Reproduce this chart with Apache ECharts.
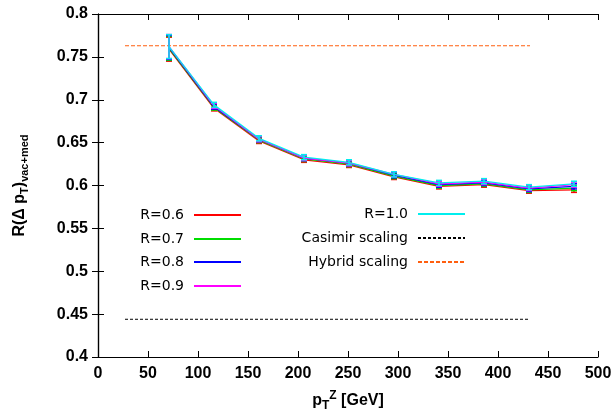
<!DOCTYPE html>
<html>
<head>
<meta charset="utf-8">
<script src="https://cdn.jsdelivr.net/npm/echarts@6/dist/echarts.min.js"></script>
<style>html,body{margin:0;padding:0;background:#fff;}#c{width:614px;height:412px;}</style>
</head>
<body>
<div id="c"></div>
<script>
// ---- data ----
var xVals = [71, 116, 161, 206, 251, 296, 341, 386, 431, 476];
var seriesNames = ['R=0.6', 'R=0.7', 'R=0.8', 'R=0.9', 'R=1.0'];
var r06 = [0.759, 0.690, 0.652, 0.630, 0.624, 0.610, 0.599, 0.601, 0.594, 0.595];
var r07 = [0.760, 0.691, 0.653, 0.631, 0.625, 0.611, 0.600, 0.602, 0.595, 0.597];
var r08 = [0.761, 0.692, 0.654, 0.632, 0.626, 0.612, 0.601, 0.603, 0.596, 0.599];
var r09 = [0.762, 0.693, 0.654, 0.632, 0.626, 0.613, 0.602, 0.604, 0.597, 0.601];
var r10 = [0.762, 0.694, 0.655, 0.633, 0.627, 0.613, 0.603, 0.605, 0.598, 0.602];
var errs = [0.014, 0.003, 0.003, 0.003, 0.003, 0.003, 0.003, 0.003, 0.003, 0.003];
var refX = [27, 432];
var casimirValue = 0.444;
var hybridValue = 0.763;
var xTicks = [0, 500, 50];
var yTicks = [0.4, 0.8, 0.05];

var colors = ['#ff0000', '#00dd00', '#0000ff', '#ff00ff', '#00eeee'];
var allY = [r06, r07, r08, r09, r10];

function pairs(ys) { return xVals.map(function (x, i) { return [x, ys[i]]; }); }
function errData(ys) { return xVals.map(function (x, i) { return [x, ys[i], errs[i]]; }); }

function errRender(color) {
  return function (params, api) {
    var x = api.value(0), y = api.value(1), e = api.value(2);
    var top = api.coord([x, y + e]);
    var bot = api.coord([x, y - e]);
    var cw = 3;
    var st = { stroke: color, lineWidth: 1.5 };
    return {
      type: 'group',
      children: [
        { type: 'line', shape: { x1: top[0], y1: top[1], x2: bot[0], y2: bot[1] }, style: st },
        { type: 'line', shape: { x1: top[0] - cw, y1: top[1], x2: top[0] + cw, y2: top[1] }, style: st },
        { type: 'line', shape: { x1: bot[0] - cw, y1: bot[1], x2: bot[0] + cw, y2: bot[1] }, style: st }
      ]
    };
  };
}

var series = [];
series.push({
  name: 'Casimir scaling', type: 'line', symbol: 'none', silent: true,
  data: refX.map(function (x) { return [x, casimirValue]; }),
  lineStyle: { color: '#000000', width: 1, type: [3, 2] }, itemStyle: { color: '#000000' }, z: 1
});
series.push({
  name: 'Hybrid scaling', type: 'line', symbol: 'none', silent: true,
  data: refX.map(function (x) { return [x, hybridValue]; }),
  lineStyle: { color: '#ff5f0f', width: 1.2, type: [4, 2] }, itemStyle: { color: '#ff5f0f' }, z: 1
});
allY.forEach(function (ys, k) {
  series.push({
    name: seriesNames[k], type: 'line', symbol: 'none', data: pairs(ys),
    lineStyle: { color: colors[k], width: 1.3 }, itemStyle: { color: colors[k] }, z: 2 + k
  });
  series.push({
    name: seriesNames[k] + ' err', type: 'custom', data: errData(ys),
    renderItem: errRender(colors[k]), encode: { x: 0, y: 1 }, z: 2 + k, silent: true
  });
});

// legend entries: name, right edge of line (px), vertical centre (px)
var legendItems = [
  ['R=0.6', 242, 215], ['R=0.7', 242, 239], ['R=0.8', 242, 262], ['R=0.9', 242, 286],
  ['R=1.0', 466, 214], ['Casimir scaling', 466, 238], ['Hybrid scaling', 466, 262]
];
var legends = legendItems.map(function (it) {
  return {
    data: [it[0]], orient: 'vertical', align: 'right', padding: 0,
    right: 614 - it[1], top: it[2] - 7, itemWidth: 47, itemHeight: 14, selectedMode: false,
    itemStyle: { opacity: 0 },
    textStyle: { fontFamily: 'DejaVu Sans', fontSize: 14, color: '#000', padding: [0, 5, 0, 0] }
  };
});

var boldLabel = { fontFamily: 'Liberation Sans', fontWeight: 'bold', fontSize: 16, color: '#000' };
var axisLine = { show: true, lineStyle: { color: '#000', width: 1.2 } };
var tick = { show: true, inside: true, length: 6, lineStyle: { color: '#000', width: 1 } };

var chart = echarts.init(document.getElementById('c'), null, { renderer: 'canvas' });
chart.setOption({
  animation: false,
  backgroundColor: '#fff',
  grid: { left: 98, right: 16, top: 14, bottom: 55, containLabel: false, outerBoundsMode: 'none' },
  legend: legends,
  xAxis: [{
    type: 'value', min: xTicks[0], max: xTicks[1], interval: xTicks[2], position: 'bottom',
    axisLine: axisLine, axisTick: tick, splitLine: { show: false },
    axisLabel: Object.assign({ margin: 9 }, boldLabel),
    name: '{b|p}{sub|T}{sup|Z}{b| [GeV]}', nameLocation: 'middle', nameGap: 33,
    nameTextStyle: { rich: {
      b: { fontFamily: 'Liberation Sans', fontWeight: 'bold', fontSize: 16, color: '#000' },
      sub: { fontFamily: 'Liberation Sans', fontWeight: 'bold', fontSize: 12, color: '#000', padding: [10, 0, 0, 0] },
      sup: { fontFamily: 'Liberation Sans', fontWeight: 'bold', fontSize: 12, color: '#000', padding: [0, 0, 10, 0] }
    } }
  }, {
    type: 'value', min: xTicks[0], max: xTicks[1], interval: xTicks[2], position: 'top',
    axisLine: axisLine, axisTick: tick, splitLine: { show: false }, axisLabel: { show: false }
  }],
  yAxis: [{
    type: 'value', min: yTicks[0], max: yTicks[1], interval: yTicks[2], position: 'left',
    axisLine: axisLine, axisTick: tick, splitLine: { show: false },
    axisLabel: Object.assign({ margin: 10 }, boldLabel),
    name: '{b|R(Δ p}{sub|T}{b|)}{sub|vac+med}', nameLocation: 'middle', nameGap: 68, nameRotate: 90,
    nameTextStyle: { rich: {
      b: { fontFamily: 'Liberation Sans', fontWeight: 'bold', fontSize: 16, color: '#000' },
      sub: { fontFamily: 'Liberation Sans', fontWeight: 'bold', fontSize: 11, color: '#000', padding: [10, 0, 0, 0] }
    } }
  }, {
    type: 'value', min: yTicks[0], max: yTicks[1], interval: yTicks[2], position: 'right',
    axisLine: axisLine, axisTick: tick, splitLine: { show: false }, axisLabel: { show: false }
  }],
  series: series
});
</script>
</body>
</html>
